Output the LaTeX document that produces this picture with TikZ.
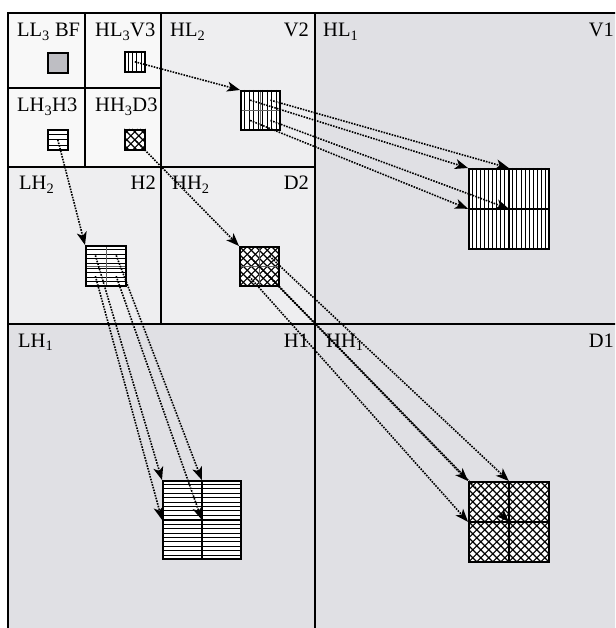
\documentclass[tikz,border=0pt]{standalone}
\usepackage{fontspec}
\setmainfont{Liberation Serif}
\usetikzlibrary{arrows.meta,calc}
\definecolor{levone}{RGB}{224,224,228}
\definecolor{levtwo}{RGB}{238,238,240}
\definecolor{levthree}{RGB}{248,248,248}
\definecolor{llgray}{RGB}{190,190,195}
\newcommand\vstripes[2]{%
  \foreach \k in {1,...,#2}{%
    \draw[hatchline] ($(#1.north west)!{\k/(#2+1)}!(#1.north east)$) -- ($(#1.south west)!{\k/(#2+1)}!(#1.south east)$);}}
\newcommand\hstripes[2]{%
  \foreach \k in {1,...,#2}{%
    \draw[hatchline] ($(#1.north west)!{\k/(#2+1)}!(#1.south west)$) -- ($(#1.north east)!{\k/(#2+1)}!(#1.south east)$);}}
\newcommand\xhatch[2]{%
  \begin{scope}
    \clip (#1.north west) rectangle (#1.south east);
    \foreach \k in {-14,...,14}{%
      \draw[xline] ($(#1.north west)+(\k*#2,0)$) -- ++(120,120);
      \draw[xline] ($(#1.north east)+(\k*#2,0)$) -- ++(-120,120);}
  \end{scope}}
\newcommand\quadlines[2]{%
  \draw[#2] (#1.north) -- (#1.south);
  \draw[#2] (#1.west) -- (#1.east);}
\begin{document}
\begin{tikzpicture}[x=1pt,y=-1pt,
  frameline/.style={line width=1.8pt},
  lab/.style={font=\fontsize{20.5}{21}\selectfont, inner sep=0pt},
  sq/.style={draw, line width=1.6pt, fill=white, minimum size=#1, inner sep=0pt, anchor=north west},
  hatchline/.style={line width=1pt},
  xline/.style={line width=1.1pt},
  thinmid/.style={line width=0.5pt, black!60},
  thickmid/.style={line width=1.5pt},
  flow/.style={dash pattern=on 1.6pt off 1.2pt, line width=1.6pt,
    -{Stealth[length=13pt,width=10pt,inset=3.5pt]}}
]
\useasboundingbox (0,0) rectangle (615,628);
\clip (0,0) rectangle (615,628);
% backgrounds
\fill[levone] (8,13) rectangle (624,636);
\fill[levtwo] (8,13) rectangle (315,324);
\fill[levthree] (8,13) rectangle (161,167);
% frame lines
\draw[frameline] (8,13) rectangle (624,636);
\draw[frameline] (315,13) -- (315,636);
\draw[frameline] (8,324) -- (624,324);
\draw[frameline] (161,13) -- (161,324);
\draw[frameline] (8,167) -- (315,167);
\draw[frameline] (85,13) -- (85,167);
\draw[frameline] (8,88) -- (161,88);
% labels
\node[lab, anchor=base west] (tll3) at (17,37) {LL\textsubscript{3} BF};
\node[lab, anchor=base west] (thl3) at (95,37) {HL\textsubscript{3}V3};
\node[lab, anchor=base west] (tlh3) at (17,112) {LH\textsubscript{3}H3};
\node[lab, anchor=base west] (thh3) at (95,112) {HH\textsubscript{3}D3};
\node[lab, anchor=base west] (thl2) at (170,37) {HL\textsubscript{2}};
\node[lab, anchor=base east] (tv2) at (309,37) {V2};
\node[lab, anchor=base west] (thl1) at (323,37) {HL\textsubscript{1}};
\node[lab, anchor=base east] (tv1) at (614,37) {V1};
\node[lab, anchor=base west] (tlh2) at (19,190) {LH\textsubscript{2}};
\node[lab, anchor=base east] (th2) at (156,190) {H2};
\node[lab, anchor=base west] (thh2) at (172,190) {HH\textsubscript{2}};
\node[lab, anchor=base east] (td2) at (309,190) {D2};
\node[lab, anchor=base west] (tlh1) at (18,347) {LH\textsubscript{1}};
\node[lab, anchor=base east] (th1) at (309,347) {H1};
\node[lab, anchor=base west] (thh1) at (326,347) {HH\textsubscript{1}};
\node[lab, anchor=base east] (td1) at (614,347) {D1};
% level 3 squares
\node[sq=20pt, fill=llgray] (ll3) at (47,52) {};
\node[sq=20pt] (hl3) at (124,51) {};
\node[sq=20pt] (lh3) at (47,129) {};
\node[sq=20pt] (hh3) at (124,129) {};
\vstripes{hl3}{4}
\hstripes{lh3}{3}
\xhatch{hh3}{8}
\node[sq=20pt, fill=none] at (hl3.north west) {};
\node[sq=20pt, fill=none] at (lh3.north west) {};
\node[sq=20pt, fill=none] at (hh3.north west) {};
% level 2 squares
\node[sq=39pt] (hl2) at (240,90) {};
\node[sq=40pt] (lh2) at (85,245) {};
\node[sq=39pt] (hh2) at (239,246) {};
\vstripes{hl2}{8}
\hstripes{lh2}{8}
\xhatch{hh2}{8}
\quadlines{hl2}{thinmid}
\quadlines{lh2}{thinmid}
\quadlines{hh2}{thinmid}
\node[sq=39pt, fill=none] at (hl2.north west) {};
\node[sq=40pt, fill=none] at (lh2.north west) {};
\node[sq=39pt, fill=none] at (hh2.north west) {};
% level 1 squares
\node[sq=80pt] (hl1) at (468,168) {};
\node[sq=78pt] (lh1) at (162,480) {};
\node[sq=80pt] (hh1) at (468,481) {};
\vstripes{hl1}{19}
\hstripes{lh1}{17}
\xhatch{hh1}{8}
\quadlines{hl1}{thickmid}
\quadlines{lh1}{thickmid}
\quadlines{hh1}{thickmid}
\node[sq=80pt, fill=none] at (hl1.north west) {};
\node[sq=78pt, fill=none] at (lh1.north west) {};
\node[sq=80pt, fill=none] at (hh1.north west) {};
% level 3 -> level 2
\draw[flow] (hl3.center) -- (hl2.north west);
\draw[flow] (lh3.center) -- (lh2.north west);
\draw[flow] (hh3.center) -- (hh2.north west);
% level 2 -> level 1
\foreach \s/\t in {hl2/hl1, lh2/lh1, hh2/hh1}{
  \draw[flow] ($(\s.center)!.5!(\s.north west)$) -- (\t.north west);
  \draw[flow] ($(\s.center)!.5!(\s.north east)$) -- (\t.north);
  \draw[flow] ($(\s.center)!.5!(\s.south west)$) -- (\t.west);
  \draw[flow] ($(\s.center)!.5!(\s.south east)$) -- (\t.center);
}
\end{tikzpicture}
\end{document}
